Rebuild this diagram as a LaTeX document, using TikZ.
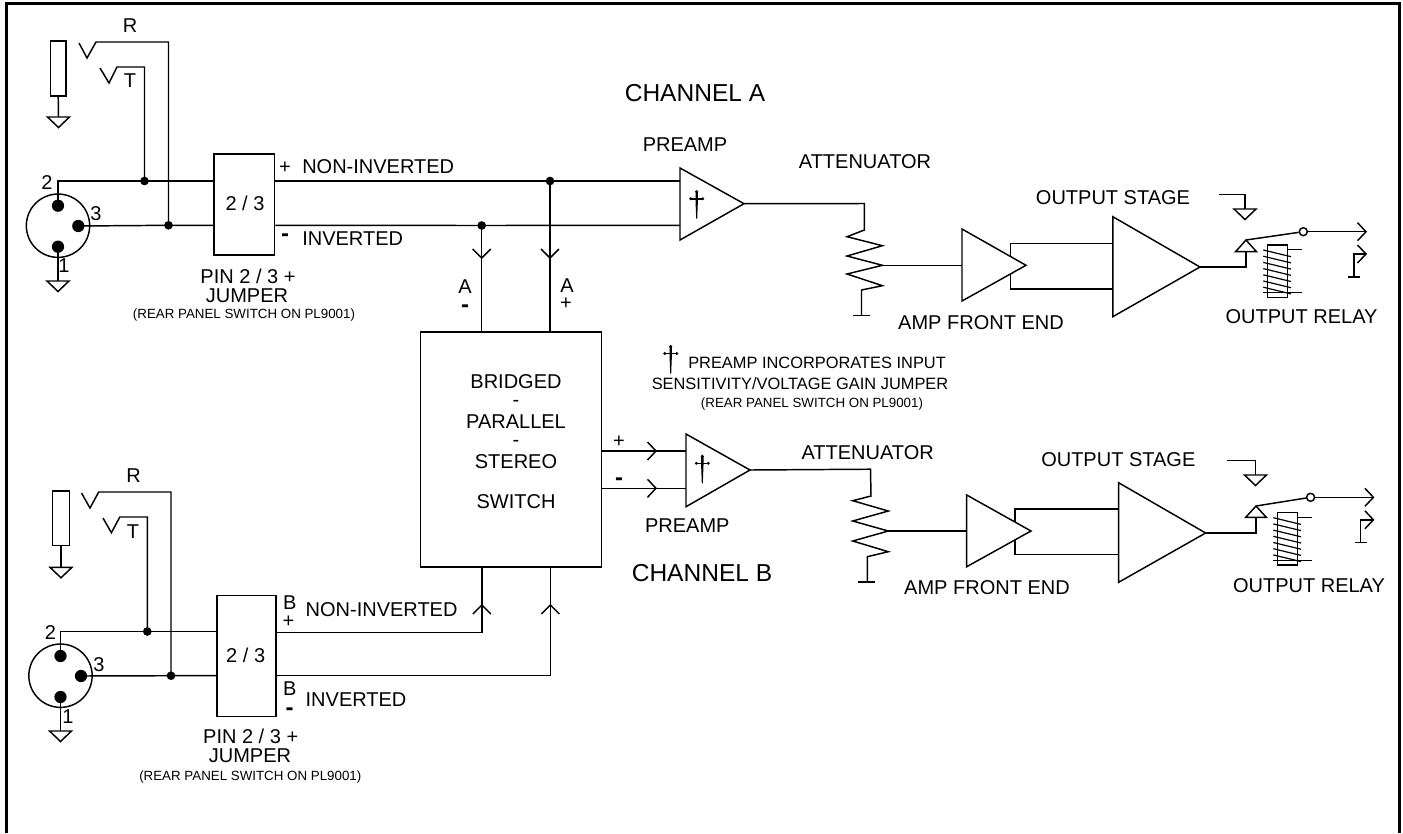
\documentclass[tikz,border=0pt]{standalone}
\usepackage{fontspec}
\setmainfont{Liberation Sans}
\tikzset{
  wire/.style={line width=1.1pt,line join=miter,line cap=butt},
  blackdot/.style={circle,fill=black,inner sep=0pt,minimum size=9.2pt},
  boxnode/.style={draw,line width=1.1pt,inner sep=0pt,fill=white},
  lab/.style={inner sep=0pt,font=\fontsize{15}{15}\selectfont},
  notelab/.style={inner sep=0pt,font=\fontsize{12.3}{12.3}\selectfont},
  smalllab/.style={inner sep=0pt,font=\fontsize{10}{10}\selectfont},
  biglab/.style={inner sep=0pt,font=\fontsize{18.4}{18.4}\selectfont},
  minus/.style={inner sep=0pt,font=\fontsize{18}{18}\selectfont\bfseries},
  gnd/.pic={\draw[wire] (-11,0)--(11,0)--(0,10.5)--cycle;},
  tipR/.pic={\draw[wire] (-8.5,-9)--(0,0)--(-8.5,9);},
  tipD/.pic={\draw[wire] (-9,-9)--(0,0)--(9,-9);},
  tipU/.pic={\draw[wire] (-9,9)--(0,0)--(9,9);},
  dagg/.pic={\fill (-1.2,-7)--(1.2,-7)--(1.2,2)--(0.5,20)--(-0.5,20)--(-1.2,2)--cycle;
    \fill (-6.5,-.8)--(6.5,-.8)--(6.5,.8)--(-6.5,.8)--cycle;
    \fill (0,-7) circle (1.7) (-6,0) circle (1.6) (6,0) circle (1.6);},
  coil/.pic={\draw[wire] (0,0) rectangle (20,52.3);
    \draw[wire] (20,4.7)--(34,4.7);
    \draw[wire] (-4.4,47.7)--(34,47.7);
    \foreach \k in {0,...,6}{\draw[line width=.9pt] (-4.4,5+6.2*\k)--(23.3,11.7+6.2*\k);}},
}
\begin{document}
\begin{tikzpicture}[x=.75pt,y=-.75pt]
\useasboundingbox (0,0) rectangle (1403,833);
% frame (open at the bottom edge)
\coordinate (fbl) at (6.2,833); \coordinate (ftl) at (6.2,3.5);
\coordinate (ftr) at (1399.5,3.5); \coordinate (fbr) at (1399.5,833);
\draw[line width=2pt,line join=miter] (fbl)--(ftl)--(ftr)--(fbr);

%% ===== CHANNEL A input =====
\node[boxnode,minimum width=15.2*.75pt,minimum height=55*.75pt] (plugA) at (58.2,68.5) {};
\coordinate (gndPlugA) at (58.5,117);
\draw[wire] (plugA.south)--(gndPlugA);
\pic at (gndPlugA) {gnd};
\node[draw,circle,line width=1.1pt,inner sep=0pt,minimum size=47.5pt] (xlrA) at (58,225.7) {};
\node[blackdot] (p2A) at (58,205.7) {};
\node[blackdot] (p3A) at (78.3,226) {};
\node[blackdot] (p1A) at (58,246.7) {};
\coordinate (gndXlrA) at (58,281);
\draw[wire] (p1A.center)--(gndXlrA);
\pic at (gndXlrA) {gnd};
\node[boxnode,minimum width=60.5*.75pt,minimum height=101*.75pt] (jumpA) at (244.3,204.5) {};
\node[lab] (j23A) at (245,203) {2 / 3};
\coordinate (c2A) at (58,181);
\node[blackdot,minimum size=6.5pt] (dTA) at (144.5,181) {};
\node[blackdot,minimum size=6.5pt] (dRA) at (168.5,225.3) {};
\draw[wire] (p2A.center)--(c2A)--(dTA.center)--(jumpA.west |- c2A);
\draw[wire] (p3A.center)--(dRA.center)--(jumpA.west |- dRA);
\coordinate (rStartA) at (96,42); \coordinate (rCornerA) at (168.5,42);
\coordinate (tStartA) at (117,67); \coordinate (tCornerA) at (144.5,67);
\draw[wire] (dRA.center)--(rCornerA)--(rStartA)--(87,58)--(79,43);
\draw[wire] (dTA.center)--(tCornerA)--(tStartA)--(109,83)--(100,68);
\node[lab] (lRA) at (130,26) {R};
\node[lab] (lTA) at (130,81) {T};
\node[lab] (l2A) at (47,183) {2};
\node[lab] (l3A) at (96,214) {3};
\node[lab] (l1A) at (64,266) {1};
\node[lab] (lplA) at (285,168) {+};
\node[minus] (lmiA) at (285,238) {-};
\node[lab,anchor=west] (lniA) at (302,167) {NON-INVERTED};
\node[lab,anchor=west] (liA) at (302,239) {INVERTED};
\node[lab] (pinA) at (248,276) {PIN 2 / 3 +};
\node[lab] (jumA) at (247,296) {JUMPER};
\node[smalllab] (rearA) at (244,315) {(REAR PANEL SWITCH ON PL9001)};

%% ===== Bridge switch =====
\node[boxnode,minimum width=181.4*.75pt,minimum height=235*.75pt] (sw) at (511,449.5) {};
\node[lab] (s1) at (516,381.7) {BRIDGED};
\node[lab] (s2) at (516,403.5) {-};
\node[lab] (s3) at (516,421.7) {PARALLEL};
\node[lab] (s4) at (516,443.5) {-};
\node[lab] (s5) at (516,461.7) {STEREO};
\node[lab] (s6) at (516,501.7) {SWITCH};

%% ===== CHANNEL A chain =====
\coordinate (preAt) at (680,168); \coordinate (preAb) at (680,240); \coordinate (preAo) at (744,203.7);
\draw[wire] (preAt)--(preAo)--(preAb)--cycle;
\pic at (696.7,198.7) {dagg};
\node[blackdot,minimum size=6.5pt] (dPA) at (550,181) {};
\node[blackdot,minimum size=6.5pt] (dMA) at (481.7,225.5) {};
\draw[wire] (jumpA.east |- c2A)--(dPA.center)--(preAt |- c2A);
\draw[wire] (jumpA.east |- dRA)--(dMA.center)--(preAt |- dRA);
\coordinate (swAm) at (481.7,332); \coordinate (swAp) at (550,332);
\draw[wire] (dMA.center)--(swAm);
\draw[wire] (dPA.center)--(swAp);
\pic at (481.7,258) {tipD};
\pic at (550,258) {tipD};
\node[lab] (aM) at (465,287) {A};
\node[minus] (aMm) at (465,308.5) {-};
\node[lab] (aP) at (567,286) {A};
\node[lab] (aPp) at (566,304) {+};
\node[biglab] (chA) at (695,93) {CHANNEL A};
\node[lab] (preLA) at (685,145) {PREAMP};
\node[lab] (attA) at (865,162) {ATTENUATOR};
% attenuator A
\coordinate (rTopA) at (864.4,203.5); \coordinate (wipA) at (882.4,265.3); \coordinate (rGndA) at (861.5,315.7);
\draw[wire] (preAo)--(rTopA)--(864.4,230)--(847,236.7)--(882.4,245.7)--(847,256)--(wipA)--(847,274)--(882.4,285.7)--(861.5,290)--(rGndA);
\draw[wire] (853,315.7)--(870,315.7);
\coordinate (afeAt) at (962,229); \coordinate (afeAb) at (962,301); \coordinate (afeAo) at (1026,265.3);
\coordinate (osAt) at (1112.8,216.7); \coordinate (osAb) at (1112.8,316.7); \coordinate (osAo) at (1200,267);
\draw[wire] (wipA)--(afeAt |- wipA);
\draw[wire] (1010.5,243.3) rectangle (1112.8,289);
\draw[wire,fill=white] (afeAt)--(afeAo)--(afeAb)--cycle;
\draw[wire,fill=white] (osAt)--(osAo)--(osAb)--cycle;
% relay A
\coordinate (cTipA) at (1246,240); \coordinate (cBaseA) at (1246,251.7);
\draw[wire] (osAo)--(1246,267)--(cBaseA);
\draw[wire] (1235.5,251.7)--(1256.5,251.7)--(cTipA)--cycle;
\node[draw,circle,line width=1.1pt,inner sep=0pt,minimum size=6pt,fill=white] (swcA) at (1303.3,231.7) {};
\draw[wire] (cTipA)--(swcA);
\coordinate (outA) at (1366,231.7);
\draw[wire] (swcA)--(outA);
\pic at (outA) {tipR};
\coordinate (nc2A) at (1366,254);
\draw[wire] (nc2A)--(1354,254)--(1354,277);
\draw[wire] (1348.3,277)--(1360,277);
\pic at (nc2A) {tipR};
\coordinate (gTopA) at (1245,209);
\draw[wire] (1219.3,194.3)--(1245,194.3)--(gTopA);
\pic at (gTopA) {gnd};
\pic at (1267.7,245) {coil};
\node[lab] (osLA) at (1113,198) {OUTPUT STAGE};
\node[lab] (afeLA) at (981,323) {AMP FRONT END};
\node[lab] (relLA) at (1301.6,316.7) {OUTPUT RELAY};
% note
\pic at (670.7,353.5) {dagg};
\node[notelab,anchor=west] (n1) at (688,362.7) {PREAMP INCORPORATES INPUT};
\node[notelab] (n2) at (800,384) {SENSITIVITY/VOLTAGE GAIN JUMPER};
\node[smalllab] (n3) at (812,404) {(REAR PANEL SWITCH ON PL9001)};

%% ===== CHANNEL B input =====
\node[boxnode,minimum width=16.9*.75pt,minimum height=54.7*.75pt] (plugB) at (61,518.3) {};
\coordinate (gndPlugB) at (61,567.3);
\draw[wire] (plugB.south)--(gndPlugB);
\pic at (gndPlugB) {gnd};
\node[draw,circle,line width=1.1pt,inner sep=0pt,minimum size=47.5pt] (xlrB) at (60.5,675.7) {};
\node[blackdot] (p2B) at (60.5,656) {};
\node[blackdot] (p3B) at (81,676) {};
\node[blackdot] (p1B) at (60.5,697) {};
\coordinate (gndXlrB) at (60.5,731);
\draw[wire] (p1B.center)--(gndXlrB);
\pic at (gndXlrB) {gnd};
\node[boxnode,minimum width=59*.75pt,minimum height=121*.75pt] (jumpB) at (246.5,655.8) {};
\node[lab] (j23B) at (245.7,655) {2 / 3};
\coordinate (c2B) at (60.5,631.5);
\node[blackdot,minimum size=6.5pt] (dTB) at (147.3,631.5) {};
\node[blackdot,minimum size=6.5pt] (dRB) at (171,675.7) {};
\draw[wire] (p2B.center)--(c2B)--(dTB.center)--(jumpB.west |- c2B);
\draw[wire] (p3B.center)--(dRB.center)--(jumpB.west |- dRB);
\coordinate (rCornerB) at (171,492); \coordinate (rStartB) at (98.7,492);
\coordinate (tCornerB) at (147.3,517); \coordinate (tStartB) at (119.8,517);
\draw[wire] (dRB.center)--(rCornerB)--(rStartB)--(90,508)--(81.5,493);
\draw[wire] (dTB.center)--(tCornerB)--(tStartB)--(111.4,532.7)--(103,518);
\node[lab] (lRB) at (133.5,476) {R};
\node[lab] (lTB) at (133,531.7) {T};
\node[lab] (l2B) at (50.5,632.7) {2};
\node[lab] (l3B) at (99,665) {3};
\node[lab] (l1B) at (68,717) {1};
\node[lab] (lbpB) at (289.7,603) {B};
\node[lab] (lplB) at (288.5,621.7) {+};
\node[lab] (lbmB) at (289.7,689) {B};
\node[minus] (lmiB) at (289.7,711.5) {-};
\node[lab,anchor=west] (lniB) at (305.4,610) {NON-INVERTED};
\node[lab,anchor=west] (liB) at (305.4,700) {INVERTED};
\node[lab] (pinB) at (250.7,736) {PIN 2 / 3 +};
\node[lab] (jumB) at (250,756) {JUMPER};
\node[smalllab] (rearB) at (250.3,776.7) {(REAR PANEL SWITCH ON PL9001)};
\coordinate (swBm) at (481.8,567); \coordinate (swBp) at (550.3,567);
\draw[wire] (jumpB.east |- 0,632.3)--(481.8,632.3)--(swBm);
\draw[wire] (jumpB.east |- dRB)--(550.3,675.7)--(swBp);
\pic at (481.8,605) {tipU};
\pic at (550.3,605) {tipU};

%% ===== CHANNEL B chain =====
\coordinate (preBt) at (686,434); \coordinate (preBb) at (686,506.7); \coordinate (preBo) at (750,470);
\draw[wire] (preBt)--(preBo)--(preBb)--cycle;
\pic at (702.3,463.3) {dagg};
\coordinate (swOp) at (601.7,451); \coordinate (swOm) at (601.7,488.3);
\draw[wire] (swOp)--(preBt |- swOp);
\draw[wire] (swOm)--(preBt |- swOm);
\pic at (656,451) {tipR};
\pic at (656,488.3) {tipR};
\node[lab] (bP) at (619,441.5) {+};
\node[minus] (bM) at (619,481.5) {-};
\node[lab] (preLB) at (687.3,526) {PREAMP};
\node[biglab] (chB) at (702,572.7) {CHANNEL B};
\node[lab] (attB) at (867.7,452.7) {ATTENUATOR};
\coordinate (rTopB) at (870.5,469.2); \coordinate (wipB) at (888.3,531); \coordinate (rGndB) at (867.3,582);
\draw[wire] (preBo)--(rTopB)--(871,496)--(852.7,500.7)--(888.3,511)--(852.7,521)--(wipB)--(852.7,541)--(888.3,551.7)--(867.3,556.7)--(rGndB);
\draw[wire] (858.3,582)--(875,582);
\coordinate (afeBt) at (966.7,495); \coordinate (afeBb) at (966.7,566.7); \coordinate (afeBo) at (1031,531);
\coordinate (osBt) at (1118.6,482.7); \coordinate (osBb) at (1118.6,582.3); \coordinate (osBo) at (1205.6,533);
\draw[wire] (wipB)--(afeBt |- wipB);
\draw[wire] (1015.2,509) rectangle (1118.6,554.7);
\draw[wire,fill=white] (afeBt)--(afeBo)--(afeBb)--cycle;
\draw[wire,fill=white] (osBt)--(osBo)--(osBb)--cycle;
% relay B
\coordinate (cTipB) at (1256,506); \coordinate (cBaseB) at (1256,517.3);
\draw[wire] (osBo)--(1256,533)--(cBaseB);
\draw[wire] (1245.7,517.3)--(1266.3,517.3)--(cTipB)--cycle;
\node[draw,circle,line width=1.1pt,inner sep=0pt,minimum size=6pt,fill=white] (swcB) at (1310.6,497.3) {};
\draw[wire] (cTipB)--(swcB);
\coordinate (outB) at (1373.4,497.3);
\draw[wire] (swcB)--(outB);
\pic at (outB) {tipR};
\coordinate (nc2B) at (1373.4,519.8);
\draw[wire] (nc2B)--(1360.3,519.8)--(1360.3,542.7);
\draw[wire] (1355.3,542.7)--(1366.7,542.7);
\pic at (nc2B) {tipR};
\coordinate (gTopB) at (1255.5,475);
\draw[wire] (1226.7,460.7)--(1255.5,460.7)--(gTopB);
\pic at (gTopB) {gnd};
\pic at (1277.7,512.7) {coil};
\node[lab] (osLB) at (1118.3,460) {OUTPUT STAGE};
\node[lab] (afeLB) at (987,587.7) {AMP FRONT END};
\node[lab] (relLB) at (1309,585.7) {OUTPUT RELAY};
\end{tikzpicture}
\end{document}
